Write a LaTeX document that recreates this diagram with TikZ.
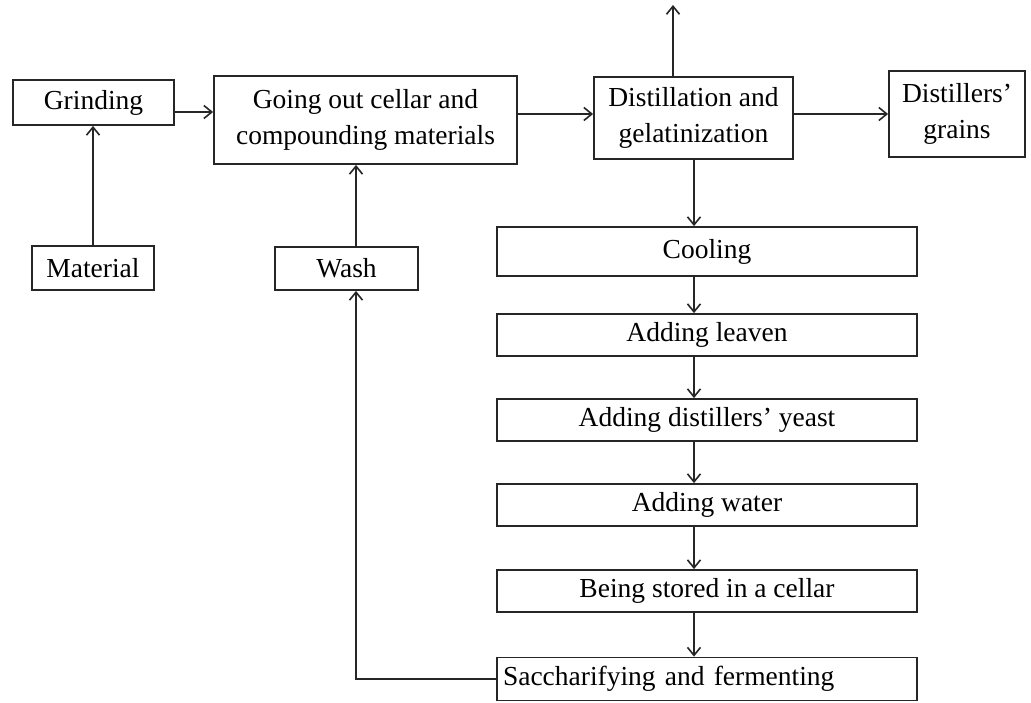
\documentclass[tikz,border=0pt]{standalone}
\usepackage{fontspec}
\setmainfont{Liberation Serif}
\usetikzlibrary{arrows.meta,calc}
\begin{document}
\begin{tikzpicture}[x=1pt,y=-1pt,
  box/.style={draw=black!85,line width=1.8pt,rectangle,inner sep=0pt,align=center,
    font=\fontsize{27.5}{36}\selectfont},
  arr/.style={draw=black!85,line width=1.6pt,-{Straight Barb[length=8pt,width=13pt,line width=1.6pt]}},
  ln/.style={draw=black!85,line width=1.6pt}]
\useasboundingbox[fill=white] (0,0) rectangle (1031,702);
\node[box,minimum width=161pt,minimum height=45pt] (grind) at (93.5,102.5) {Grinding};
\node[box,minimum width=303pt,minimum height=88pt] (going) at (365.5,120) {Going out cellar and\\compounding materials};
\node[box,minimum width=122pt,minimum height=44pt] (mat) at (93,268) {Material};
\node[box,minimum width=143pt,minimum height=43pt] (wash) at (346.5,268.5) {Wash};
\node[box,minimum width=199pt,minimum height=82pt] (dist) at (693.5,118) {Distillation and\\gelatinization};
\node[box,minimum width=136pt,minimum height=86pt] (grains) at (957,114) {Distillers'\\grains};
\node[box,minimum width=420pt,minimum height=49pt] (cool) at (707,251.5) {Cooling};
\node[box,minimum width=420pt,minimum height=42pt] (leav) at (707,335) {Adding leaven};
\node[box,minimum width=420pt,minimum height=42pt] (yeast) at (707,420) {Adding distillers' yeast};
\node[box,minimum width=420pt,minimum height=42pt] (water) at (707,505) {Adding water};
\node[box,minimum width=420pt,minimum height=42pt] (stored) at (707,591) {Being stored in a cellar};
\node[box,minimum width=420pt,minimum height=43pt,text width=408pt,inner xsep=6pt,align=left] (sacch) at (707,679) {Saccharifying and fermenting};
\coordinate (top) at (673,5);
\coordinate (colx) at (694,0);
\coordinate (washx) at (356,0);
% connectors
\draw[arr] ([yshift=-9.5pt]grind.east) -- ([yshift=-9.5pt]grind.east -| going.west);
\draw[arr] ([yshift=6pt]going.east) -- ([yshift=6pt]going.east -| dist.west);
\draw[arr] ([yshift=4pt]dist.east) -- ([yshift=4pt]dist.east -| grains.west);
\draw[arr] (dist.north -| top) -- (top);
\draw[arr] (mat.north) -- (mat.north |- grind.south);
\draw[arr] (wash.north -| washx) -- (going.south -| washx);
\draw[arr] (dist.south -| colx) -- (cool.north -| colx);
\draw[arr] (cool.south -| colx) -- (leav.north -| colx);
\draw[arr] (leav.south -| colx) -- (yeast.north -| colx);
\draw[arr] (yeast.south -| colx) -- (water.north -| colx);
\draw[arr] (water.south -| colx) -- (stored.north -| colx);
\draw[arr] (stored.south -| colx) -- (sacch.north -| colx);
\draw[arr] (sacch.west) -- (sacch.west -| washx) -- (wash.south -| washx);
\end{tikzpicture}
\end{document}
